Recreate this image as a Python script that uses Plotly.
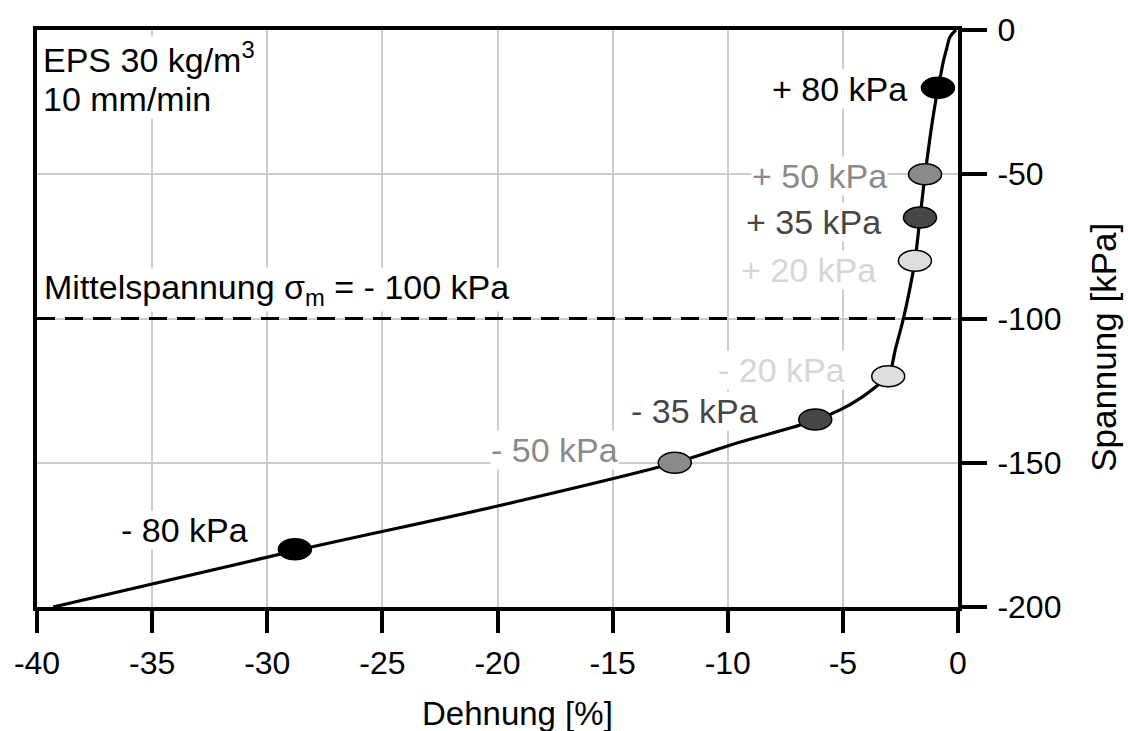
import plotly.graph_objects as go

# ---- data ----
strain = [-0.09, -0.35, -0.49, -0.64, -0.78, -0.87, -1.07, -1.22, -1.43, -1.65, -1.87,
          -2.1, -2.37, -2.7, -3.03, -3.5, -4.2, -5.1, -6.2, -9.77, -12.3, -20.0, -28.8, -39.3]
stress = [0, -2.4, -6.4, -11, -16.8, -20, -29.5, -37.5, -50, -65, -80,
          -90, -100, -110, -120, -123.2, -127.4, -131.6, -135.3, -143.6, -150, -165, -180.5, -200]

marker_strain = [-0.87, -1.43, -1.65, -1.87, -3.03, -6.2, -12.3, -28.8]
marker_stress = [-20, -50, -65, -80, -120, -135, -150, -180]
marker_labels = ["+ 80 kPa", "+ 50 kPa", "+ 35 kPa", "+ 20 kPa",
                 "- 20 kPa", "- 35 kPa", "- 50 kPa", "- 80 kPa"]

mean_stress = -100
x_ticks = [-40, -35, -30, -25, -20, -15, -10, -5, 0]
y_ticks = [0, -50, -100, -150, -200]

# ---- styles ----
FONT = "Liberation Sans, Arial, sans-serif"
fills = ["#000000", "#8a8a8a", "#474747", "#dedede", "#dedede", "#474747", "#8a8a8a", "#000000"]
text_cols = ["#000000", "#8a8a8a", "#474747", "#d6d6d6", "#d6d6d6", "#474747", "#8a8a8a", "#000000"]
lab_xshift = [-30, -37, -38, -38, -42, -56, -56, -46]
lab_yshift = [-1, -2, -4, -9, 6, 8, 13, 19]

fig = go.Figure()
fig.add_trace(go.Scatter(x=strain, y=stress, mode="lines",
                         line=dict(color="black", width=3.2, shape="spline", smoothing=1.0),
                         hoverinfo="skip", showlegend=False))

shapes = [dict(type="line", xref="x", yref="y", x0=x_ticks[0], x1=x_ticks[-1],
               y0=mean_stress, y1=mean_stress,
               line=dict(color="black", width=3, dash="18px,10px"), layer="above")]
for xs, ys, fc in zip(marker_strain, marker_stress, fills):
    shapes.append(dict(type="circle", xref="x", yref="y",
                       xsizemode="pixel", ysizemode="pixel",
                       xanchor=xs, yanchor=ys, x0=-16.5, x1=16.5, y0=-10.5, y1=10.5,
                       fillcolor=fc, line=dict(color="black", width=1.5), layer="above"))

annotations = []
for xs, ys, t, c, dx, dy in zip(marker_strain, marker_stress, marker_labels, text_cols,
                                lab_xshift, lab_yshift):
    annotations.append(dict(x=xs, y=ys, xref="x", yref="y", text=t, showarrow=False,
                            xanchor="right", yanchor="middle", xshift=dx, yshift=dy,
                            font=dict(family=FONT, size=34, color=c),
                            bgcolor="white", borderpad=0))

annotations += [
    dict(x=x_ticks[0], y=-24, xref="x", yref="y", text="10 mm/min",
         showarrow=False, xanchor="left", yanchor="middle", xshift=5,
         font=dict(family=FONT, size=34, color="black"), bgcolor="white", borderpad=0),
    dict(x=x_ticks[0], y=-9.5, xref="x", yref="y", text="EPS 30 kg/m<sup>3</sup>",
         showarrow=False, xanchor="left", yanchor="middle", xshift=5,
         font=dict(family=FONT, size=34, color="black"), bgcolor="white", borderpad=0),
    dict(x=x_ticks[0], y=-89, xref="x", yref="y",
         text="Mittelspannung σ<sub>m</sub> = - 100 kPa",
         showarrow=False, xanchor="left", yanchor="middle", xshift=6, yshift=-3,
         font=dict(family=FONT, size=34, color="black"), bgcolor="white", borderpad=0),
    dict(x=-19.15, y=-0.185, xref="x", yref="paper", text="Dehnung [%]",
         showarrow=False, xanchor="center", yanchor="middle",
         font=dict(family=FONT, size=33, color="black")),
    dict(x=1.158, y=-110, xref="paper", yref="y", text="Spannung [kPa]", textangle=-90,
         showarrow=False, xanchor="center", yanchor="middle",
         font=dict(family=FONT, size=35, color="black")),
]

fig.update_layout(
    width=1128, height=731,
    margin=dict(l=37, r=170, t=28, b=124),
    paper_bgcolor="white", plot_bgcolor="white",
    shapes=shapes, annotations=annotations,
    font=dict(family=FONT, size=32, color="black"),
)
fig.update_xaxes(range=[-40, 0], tickvals=x_ticks, ticktext=[str(v) for v in x_ticks],
                 showgrid=True, gridcolor="#cccccc", gridwidth=2,
                 showline=True, linecolor="black", linewidth=4, mirror=True,
                 ticks="outside", ticklen=22, tickwidth=4, tickcolor="black",
                 ticklabelstandoff=3,
                 tickfont=dict(family=FONT, size=32, color="black"),
                 zeroline=False, fixedrange=True)
fig.update_yaxes(range=[-200, 0], side="right", tickvals=y_ticks, ticktext=[str(v) for v in y_ticks],
                 showgrid=True, gridcolor="#cccccc", gridwidth=2,
                 showline=True, linecolor="black", linewidth=4, mirror=True,
                 ticks="outside", ticklen=25, tickwidth=4, tickcolor="black",
                 ticklabelstandoff=4,
                 tickfont=dict(family=FONT, size=32, color="black"),
                 zeroline=False, fixedrange=True)

fig.write_html("out.html")
